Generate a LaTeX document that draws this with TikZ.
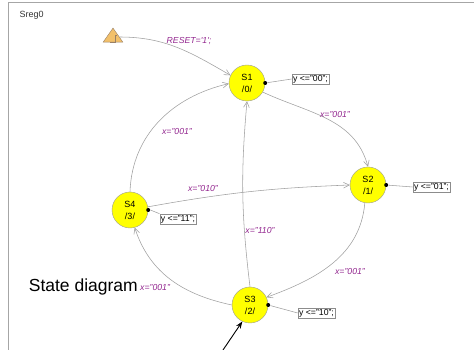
\documentclass[tikz,border=0pt]{standalone}
\usepackage{fontspec}
\setmainfont{Liberation Sans}
\usepackage{xcolor}
\usetikzlibrary{positioning,calc,arrows.meta,shapes.geometric}
\definecolor{stateyellow}{HTML}{FFFF00}
\definecolor{labelpurple}{HTML}{93278F}
\definecolor{resetorange}{HTML}{F2C06A}
\tikzset{
  smfont/.style={font=\fontsize{8}{9}\selectfont},
  smstate/.style={circle, draw=gray!80, fill=stateyellow, minimum size=36pt, inner sep=0pt, align=center, font=\fontsize{9}{12}\selectfont},
  smout/.style={draw=gray!90, fill=white, inner sep=1.2pt, font=\fontsize{8.7}{9}\selectfont},
  smlabel/.style={text=labelpurple, inner sep=1pt, font=\fontsize{8.7}{9}\selectfont\itshape},
  smarrow/.style={-{Straight Barb[length=2mm, width=2mm]}, draw=gray!75, line width=0.55pt},
  smtie/.style={draw=gray!75, line width=0.55pt},
  smdot/.style={circle, fill=black, inner sep=0pt, minimum size=4pt},
}
\begin{document}
\begin{tikzpicture}[x=1pt, y=1pt, smfont]
  \useasboundingbox (0,0) rectangle (474,350);
  % Frame (top and left edges only)
  \draw[gray!70, line width=1pt] (474,347.5) -- (8,347.5) -- (8,0);
  \node[anchor=west, text=black!80, font=\fontsize{9}{10}\selectfont] (title) at (16,335) {Sreg0};

  % States
  \node[smstate] (s1) at (247,267) {S1\\/0/};
  \node[smstate] (s2) at (368,165) {S2\\/1/};
  \node[smstate] (s3) at (250,45) {S3\\/2/};
  \node[smstate] (s4) at (130,140) {S4\\/3/};

  % Reset marker
  \node[isosceles triangle, isosceles triangle apex angle=70, shape border rotate=90, draw=gray!60!brown, fill=resetorange,
        minimum height=14pt, minimum width=19pt, inner sep=0pt] (rst) at (113,313) {};
  \draw[gray!60!brown, line width=0.5pt] (110,307.5) -- (115,307.5) -- (115,315) -- (117,315);

  % Outputs
  \node[smdot] (d1) at (s1.east) {};
  \node[smdot] (d2) at (s2.east) {};
  \node[smdot] (d3) at (s3.east) {};
  \node[smdot] (d4) at (s4.east) {};
  \node[smout] (o1) at (310.5,271) {y <="00";};
  \node[smout] (o2) at (431.5,163) {y <="01";};
  \node[smout] (o3) at (316.5,37) {y <="10";};
  \node[smout] (o4) at (178,131) {y <="11";};
  \draw[smtie] (d1) -- (o1.west);
  \draw[smtie] (d2) -- (o2.west);
  \draw[smtie] (d3) -- (o3.west);
  \draw[smtie] (d4.east) -- (o4.north west);

  % Transitions
  \draw[smarrow] (rst.east) to[out=0, in=150] (s1.155);
  \draw[smarrow] (s4.north) to[out=88, in=193] (s1.182);
  \draw[smarrow] (s1.-30) to[out=-25, in=105] (s2.north);
  \draw[smarrow] (s4.10) to[bend left=4] (s2.west);
  \draw[smarrow] (s3.north) to[bend left=6] (s1.south);
  \draw[smarrow] (s2.-100) to[out=-95, in=20] (s3.25);
  \draw[smarrow] (s3.west) to[out=168, in=-72] (s4.-75);

  % Transition labels
  \node[smlabel] (lrst) at (189,309) {RESET=\textquotesingle1\textquotesingle;};
  \node[smlabel] (l41) at (177,218) {x="001"};
  \node[smlabel] (l12) at (335,235) {x="001"};
  \node[smlabel] (l42) at (203,161) {x="010"};
  \node[smlabel] (l31) at (260,119) {x="110"};
  \node[smlabel] (l23) at (350,78) {x="001"};
  \node[smlabel, anchor=west] (l34) at (139,62) {x="001"};

  % Caption with pointer
  \node[anchor=east, inner sep=0pt, font=\fontsize{17.5}{20}\selectfont] (cap) at (138,63) {State diagram};
  \coordinate (tail) at (223,0);
  \draw[-{Stealth[length=2.5mm]}, line width=0.9pt] (tail) -- (s3.-115);
\end{tikzpicture}
\end{document}
